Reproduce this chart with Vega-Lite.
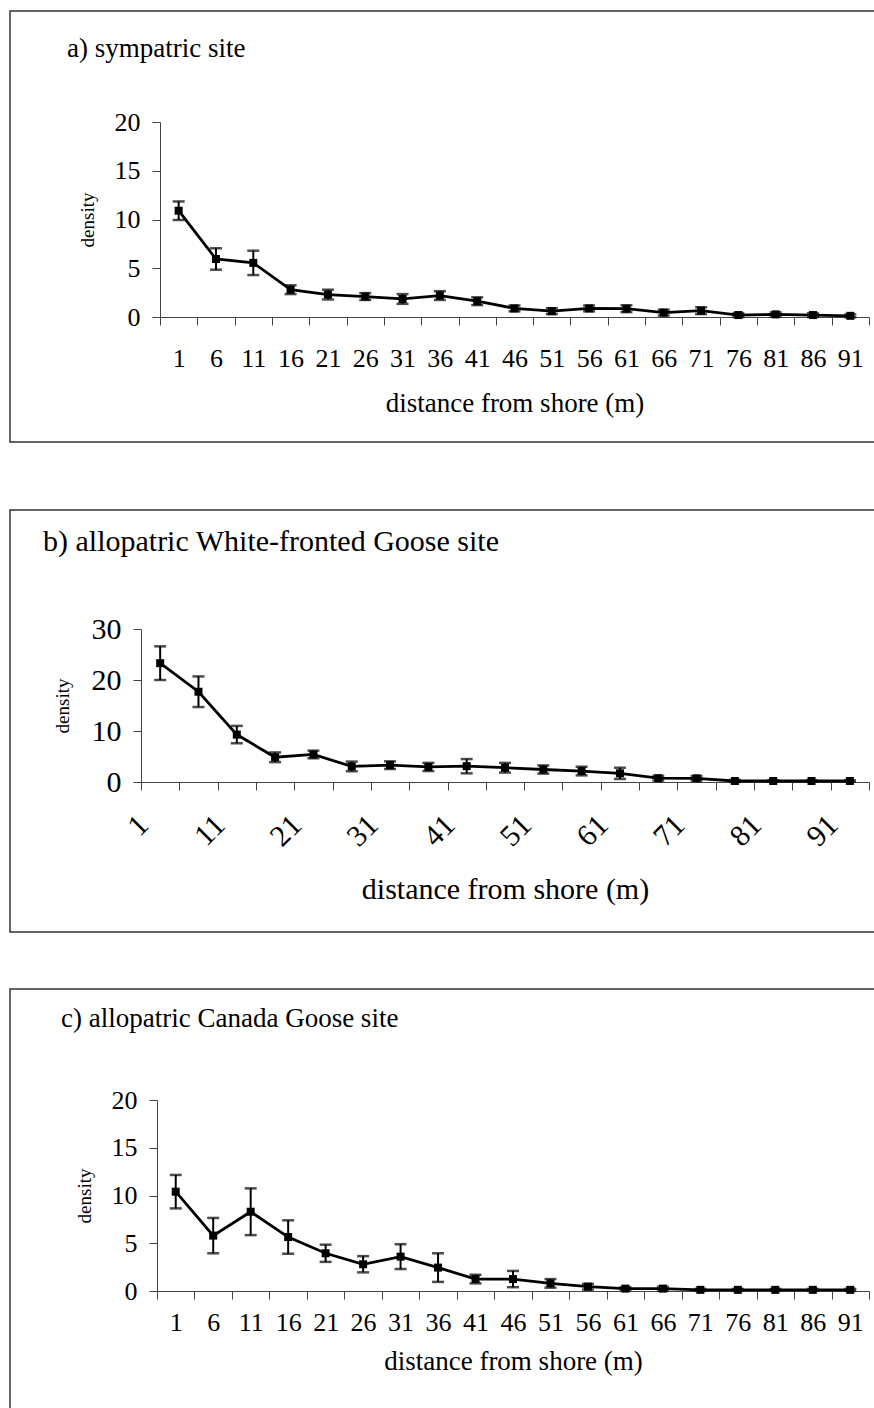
{
  "$schema": "https://vega.github.io/schema/vega-lite/v6.json",
  "background": "white",
  "padding": {"left": -2, "top": 10, "right": 0, "bottom": 0},
  "config": {
    "font": "Liberation Serif",
    "view": {"stroke": "#333", "strokeWidth": 1.5},
    "axis": {"labelFont": "Liberation Serif", "titleFont": "Liberation Serif", "labelColor": "black", "titleColor": "black", "domainColor": "#444", "tickColor": "#444", "grid": false, "titleFontWeight": "normal", "domainWidth": 1, "tickWidth": 1, "tickSize": 8, "labelOverlap": false},
    "title": {"font": "Liberation Serif", "fontWeight": "normal", "color": "black", "anchor": "start", "frame": "group"}
  },
  "datasets": {
    "a": [
      {"dist": 1, "density": 10.9, "se": 0.95},
      {"dist": 6, "density": 5.95, "se": 1.1},
      {"dist": 11, "density": 5.55, "se": 1.25},
      {"dist": 16, "density": 2.8, "se": 0.45},
      {"dist": 21, "density": 2.3, "se": 0.5},
      {"dist": 26, "density": 2.1, "se": 0.35},
      {"dist": 31, "density": 1.85, "se": 0.5},
      {"dist": 36, "density": 2.2, "se": 0.45},
      {"dist": 41, "density": 1.62, "se": 0.4},
      {"dist": 46, "density": 0.88, "se": 0.3},
      {"dist": 51, "density": 0.6, "se": 0.3},
      {"dist": 56, "density": 0.88, "se": 0.3},
      {"dist": 61, "density": 0.85, "se": 0.35},
      {"dist": 66, "density": 0.45, "se": 0.3},
      {"dist": 71, "density": 0.65, "se": 0.35},
      {"dist": 76, "density": 0.2, "se": 0.2},
      {"dist": 81, "density": 0.27, "se": 0.2},
      {"dist": 86, "density": 0.2, "se": 0.2},
      {"dist": 91, "density": 0.12, "se": 0.15}
    ],
    "b": [
      {"dist": 1, "density": 23.3, "se": 3.3},
      {"dist": 6, "density": 17.7, "se": 3.0},
      {"dist": 11, "density": 9.3, "se": 1.7},
      {"dist": 16, "density": 4.85, "se": 0.95},
      {"dist": 21, "density": 5.4, "se": 0.75},
      {"dist": 26, "density": 3.05, "se": 0.95},
      {"dist": 31, "density": 3.3, "se": 0.75},
      {"dist": 36, "density": 2.95, "se": 0.8},
      {"dist": 41, "density": 3.1, "se": 1.4},
      {"dist": 46, "density": 2.8, "se": 0.95},
      {"dist": 51, "density": 2.45, "se": 0.8},
      {"dist": 56, "density": 2.15, "se": 0.85},
      {"dist": 61, "density": 1.7, "se": 1.1},
      {"dist": 66, "density": 0.75, "se": 0.45},
      {"dist": 71, "density": 0.72, "se": 0.45},
      {"dist": 76, "density": 0.2, "se": 0.2},
      {"dist": 81, "density": 0.2, "se": 0.15},
      {"dist": 86, "density": 0.2, "se": 0.15},
      {"dist": 91, "density": 0.2, "se": 0.15}
    ],
    "c": [
      {"dist": 1, "density": 10.4, "se": 1.75},
      {"dist": 6, "density": 5.8, "se": 1.85},
      {"dist": 11, "density": 8.3, "se": 2.45},
      {"dist": 16, "density": 5.65, "se": 1.75},
      {"dist": 21, "density": 3.95, "se": 0.9},
      {"dist": 26, "density": 2.8, "se": 0.85},
      {"dist": 31, "density": 3.6, "se": 1.3},
      {"dist": 36, "density": 2.45, "se": 1.5},
      {"dist": 41, "density": 1.25, "se": 0.45},
      {"dist": 46, "density": 1.25, "se": 0.85},
      {"dist": 51, "density": 0.8, "se": 0.45},
      {"dist": 56, "density": 0.45, "se": 0.3},
      {"dist": 61, "density": 0.25, "se": 0.15},
      {"dist": 66, "density": 0.25, "se": 0.2},
      {"dist": 71, "density": 0.12, "se": 0.1},
      {"dist": 76, "density": 0.12, "se": 0.1},
      {"dist": 81, "density": 0.12, "se": 0.1},
      {"dist": 86, "density": 0.12, "se": 0.1},
      {"dist": 91, "density": 0.12, "se": 0.1}
    ]
  },
  "spacing": 66,
  "vconcat": [
    {
      "width": 870, "height": 431,
      "title": {"text": "a) sympatric site", "offset": -52, "dx": 57, "fontSize": 27},
      "data": {"name": "a"},
      "encoding": {
        "x": {"field": "dist", "type": "ordinal", "scale": {"type": "band", "range": [150, 859], "paddingInner": 0, "paddingOuter": 0},
              "axis": {"title": "distance from shore (m)", "offset": -125, "tickBand": "extent", "labelAngle": 0, "labelFontSize": 26, "labelPadding": 20, "titleFontSize": 27, "titlePadding": 19}},
        "y": {"field": "density", "type": "quantitative", "scale": {"domain": [0, 20], "range": [306, 111], "nice": false},
              "axis": {"title": "density", "offset": -150, "values": [0, 5, 10, 15, 20], "labelFontSize": 26, "labelPadding": 12, "titleFontSize": 19, "titlePadding": 17}}
      },
      "layer": [
        {"mark": {"type": "errorbar", "color": "black", "ticks": {"size": 12, "thickness": 2.5, "color": "black"}, "rule": {"strokeWidth": 2, "color": "black"}},
         "encoding": {"yError": {"field": "se"}}},
        {"mark": {"type": "line", "color": "black", "strokeWidth": 2.8, "point": {"shape": "square", "size": 64, "filled": true, "color": "black", "opacity": 1}}}
      ]
    },
    {
      "spacing": 55,
      "vconcat": [
        {
          "width": 870, "height": 422,
          "title": {"text": "b) allopatric White-fronted Goose site", "offset": -47, "dx": 33, "fontSize": 30},
          "data": {"name": "b"},
          "encoding": {
            "x": {"field": "dist", "type": "ordinal", "scale": {"type": "band", "range": [131, 859], "paddingInner": 0, "paddingOuter": 0},
                  "axis": {"title": "distance from shore (m)", "offset": -150, "tickBand": "extent", "labelAngle": -45, "labelAlign": "right", "labelBaseline": "middle", "labelOffset": -17, "labelExpr": "(datum.value - 1) % 10 === 0 ? datum.label : ''", "labelFontSize": 30, "labelPadding": 30, "titleFontSize": 30, "titlePadding": 23}},
            "y": {"field": "density", "type": "quantitative", "scale": {"domain": [0, 30], "range": [272, 119], "nice": false},
                  "axis": {"title": "density", "offset": -131, "values": [0, 10, 20, 30], "labelFontSize": 30, "labelPadding": 12, "titleFontSize": 19, "titlePadding": 19}}
          },
          "layer": [
            {"mark": {"type": "errorbar", "color": "black", "ticks": {"size": 12, "thickness": 2.5, "color": "black"}, "rule": {"strokeWidth": 2, "color": "black"}},
             "encoding": {"yError": {"field": "se"}}},
            {"mark": {"type": "line", "color": "black", "strokeWidth": 2.8, "point": {"shape": "square", "size": 64, "filled": true, "color": "black", "opacity": 1}}}
          ]
        },
        {
          "width": 870, "height": 430,
          "title": {"text": "c) allopatric Canada Goose site", "offset": -44, "dx": 51, "fontSize": 27},
          "data": {"name": "c"},
          "encoding": {
            "x": {"field": "dist", "type": "ordinal", "scale": {"type": "band", "range": [147, 859], "paddingInner": 0, "paddingOuter": 0},
                  "axis": {"title": "distance from shore (m)", "offset": -128, "tickBand": "extent", "labelAngle": 0, "labelFontSize": 26, "labelPadding": 10, "titleFontSize": 27, "titlePadding": 13}},
            "y": {"field": "density", "type": "quantitative", "scale": {"domain": [0, 20], "range": [302, 111], "nice": false},
                  "axis": {"title": "density", "offset": -147, "values": [0, 5, 10, 15, 20], "labelFontSize": 26, "labelPadding": 12, "titleFontSize": 19, "titlePadding": 17}}
          },
          "layer": [
            {"mark": {"type": "errorbar", "color": "black", "ticks": {"size": 12, "thickness": 2.5, "color": "black"}, "rule": {"strokeWidth": 2, "color": "black"}},
             "encoding": {"yError": {"field": "se"}}},
            {"mark": {"type": "line", "color": "black", "strokeWidth": 2.8, "point": {"shape": "square", "size": 64, "filled": true, "color": "black", "opacity": 1}}}
          ]
        }
      ]
    }
  ]
}
